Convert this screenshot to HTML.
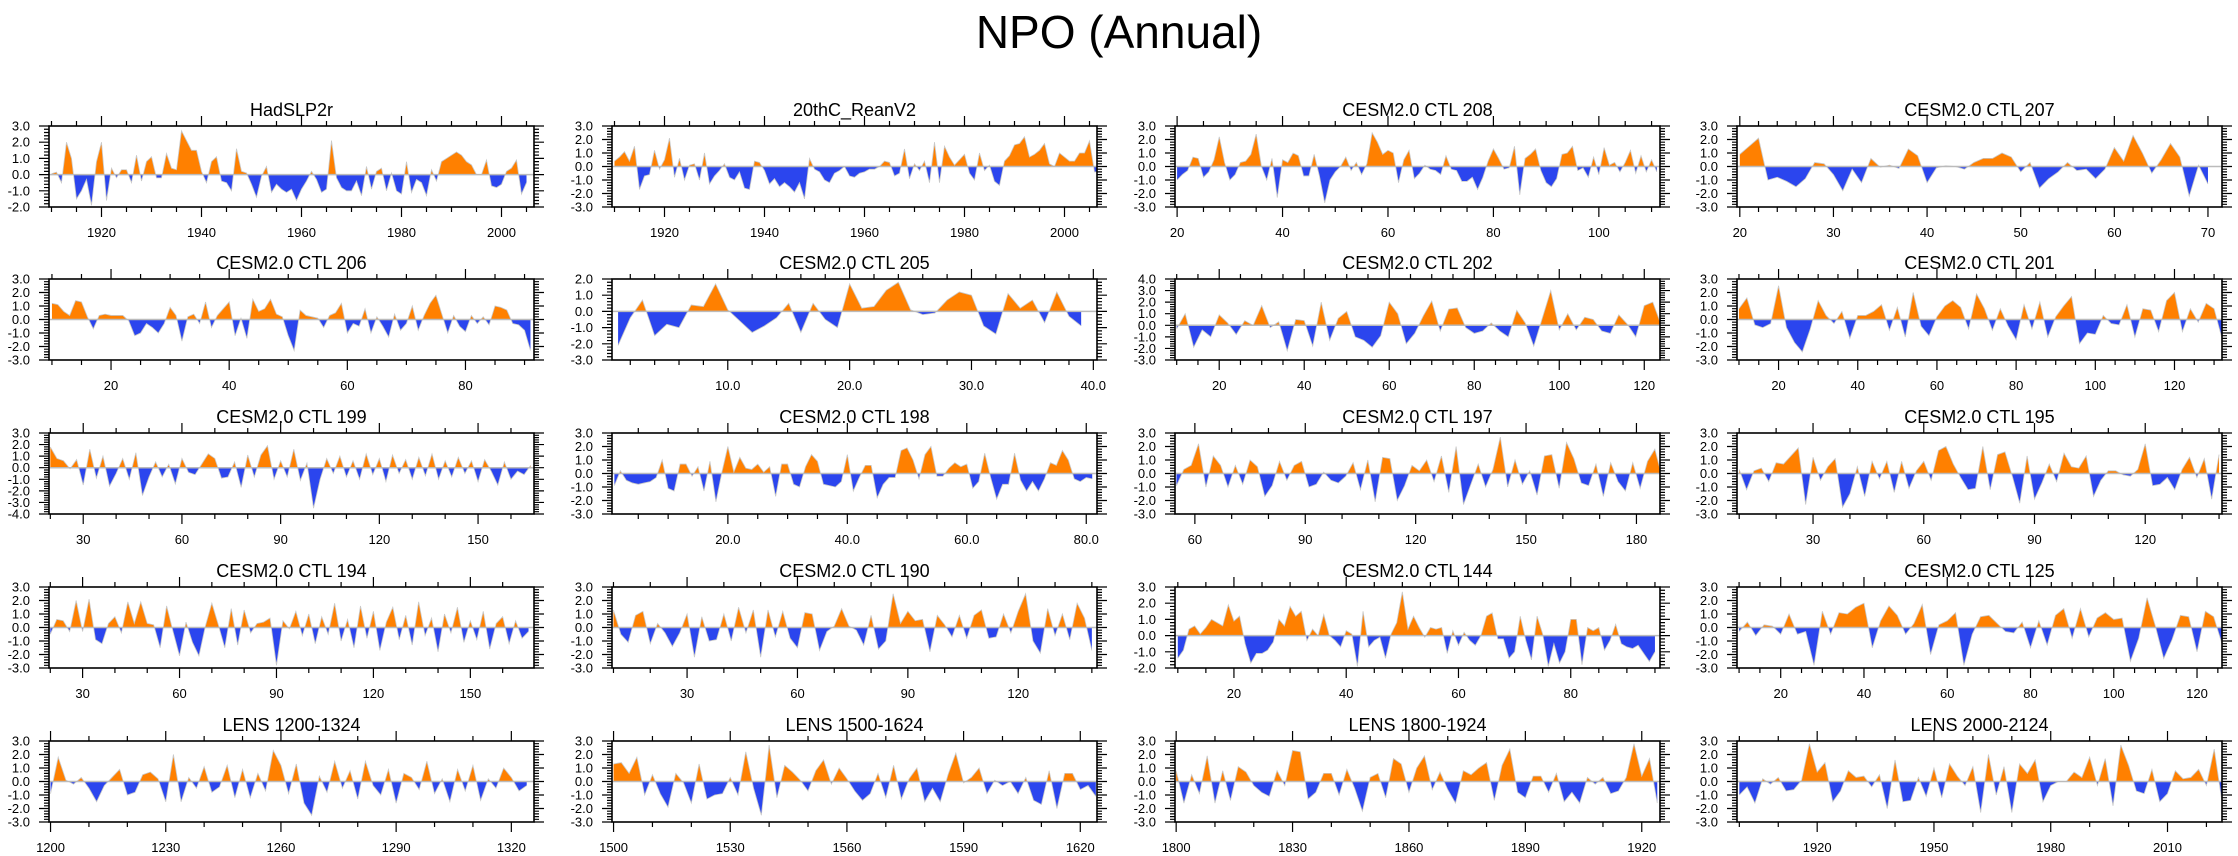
<!DOCTYPE html>
<html><head><meta charset="utf-8"><style>
html,body{margin:0;padding:0;background:#fff;}
svg{display:block;font-family:"Liberation Sans",Arial,sans-serif;}
</style></head><body>
<svg id="fig" width="2238" height="856" viewBox="0 0 2238 856" xmlns="http://www.w3.org/2000/svg">
<rect width="2238" height="856" fill="#fff"/>
<text x="1119" y="48" text-anchor="middle" font-size="46">NPO (Annual)</text>
</svg>
<script>
// ---- data (each series: value per time step) ----
const titles = ["HadSLP2r","20thC_ReanV2","CESM2.0 CTL 208","CESM2.0 CTL 207",
"CESM2.0 CTL 206","CESM2.0 CTL 205","CESM2.0 CTL 202","CESM2.0 CTL 201",
"CESM2.0 CTL 199","CESM2.0 CTL 198","CESM2.0 CTL 197","CESM2.0 CTL 195",
"CESM2.0 CTL 194","CESM2.0 CTL 190","CESM2.0 CTL 144","CESM2.0 CTL 125",
"LENS 1200-1324","LENS 1500-1624","LENS 1800-1924","LENS 2000-2124"];
const starts = [1910,1910,20,20, 10,1,10,10, 20,1,55,10, 20,10,10,10, 1200,1500,1800,1900];
const steps  = [1,1,1,1, 1,1,2,2, 2,1,2,2, 2,2,1,2, 2,2,2,2];
const xMins = [1909.5,1909.5,19.6,19.7, 9.5,0.5,9.6,9.5, 19.6,0.6,54.6,9.4, 19.6,9.6,9.5,9.5, 1199.6,1499.6,1799.7,1899.4];
const xMaxs = [2006.5,2006.5,111.6,71.5, 91.6,40.3,123.7,132, 167,81.8,186.4,140.8, 169.7,141.4,95.9,126, 1325.9,1624.3,1924.7,2024];
const yMins = [-2,-3,-3,-3, -3,-3,-3,-3, -4,-3,-3,-3, -3,-3,-2,-3, -3,-3,-3,-3];
const yMaxs = [3,3,3,3, 3,2,4,3, 3,3,3,3, 3,3,3,3, 3,3,3,3];
const majorSteps = [20,20,20,10, 20,10,20,20, 30,20,30,30, 30,30,20,20, 30,30,30,30];
const minorSteps = [5,5,5,2, 5,2,5,5, 10,5,10,10, 10,10,5,5, 10,10,10,10];
const tickDecimals = [0,0,0,0, 0,1,0,0, 0,1,0,0, 0,0,0,0, 0,0,0,0];

const v_had = [0.05,0.15,-0.5,2.0,1.0,-1.5,-1.0,-0.3,-1.9,0.8,2.0,-1.6,0.4,-0.2,0.3,0.3,-0.5,1.2,-0.4,0.8,1.1,-0.2,-0.2,1.3,0.4,0.3,2.7,2.1,1.5,1.5,0.2,-0.5,0.8,1.1,-0.4,-0.5,-1.0,1.6,0.2,0.1,-0.6,-1.4,-0.1,0.5,-1.1,-0.6,-0.9,-1.1,-0.9,-1.6,-0.9,-0.4,0.2,-0.3,-1.1,-0.9,2.1,-0.2,-0.8,-1.0,-1.0,-0.4,-1.3,0.5,-0.9,0.2,0.4,-1.0,0.1,-1.0,-1.2,0.8,-1.1,-0.3,-0.5,-1.3,0.3,-0.4,0.8,1.0,1.2,1.4,1.2,0.8,0.6,0.0,0.0,0.9,-0.7,-0.8,-0.6,0.2,0.4,0.9,-1.2,-0.5];
const v_20c = [0.4,0.7,1.1,0.4,1.5,-1.7,-0.7,-0.6,1.2,-0.2,0.5,2.1,-0.8,0.6,-1.0,0.1,0.2,-1.0,1.0,-1.3,-0.7,-0.3,0.2,-0.8,-1.0,-0.4,-1.6,-1.7,0.4,0.3,-0.3,-1.3,-0.9,-1.5,-1.2,-1.5,-1.9,-1.2,-2.4,0.6,-0.2,-0.4,-1.0,-1.2,-0.5,-0.3,0.0,-0.7,-0.8,-0.5,-0.4,-0.2,-0.2,0.0,0.4,0.3,-0.7,-0.5,1.3,-0.9,0.2,-0.3,0.4,-1.2,1.8,-1.2,1.5,0.7,0.1,0.5,0.9,-0.5,-1.0,1.0,-0.3,0.1,-1.1,-1.4,0.4,0.8,1.6,1.7,2.2,0.7,0.9,1.2,1.7,0.2,0.0,1.0,0.7,0.4,0.4,1.0,1.0,1.9,-0.4,-0.4];
const v_208 = [-1.0,-0.6,-0.3,0.7,0.6,-0.8,-0.4,0.5,2.2,0.3,-1.0,-0.6,0.3,0.4,0.9,2.4,0.0,-1.0,0.6,-2.3,0.5,0.3,1.0,0.8,-0.7,-0.7,0.9,-0.7,-2.7,-1.0,-0.4,0.0,0.7,-0.3,0.3,-0.6,0.2,2.5,1.8,0.9,1.2,1.0,-1.2,0.5,1.2,-0.9,-0.5,0.1,-0.2,-0.3,-0.6,0.8,-0.2,-0.3,-1.1,-1.1,-0.8,-1.7,-0.8,0.4,1.3,0.6,-0.2,-0.1,1.5,-2.1,0.6,0.9,1.3,-0.3,-1.2,-1.5,-0.9,0.9,1.0,1.5,-0.3,-0.1,-0.8,0.7,-0.6,1.4,0.1,0.3,-0.4,0.3,1.2,-0.5,0.8,-0.4,0.5,-0.4];
const v_207 = [0.9,1.5,2.1,-1.0,-0.8,-1.1,-1.5,-0.9,0.3,0.2,-0.6,-1.8,-0.2,-1.2,0.6,-0.05,0.1,-0.15,1.3,0.8,-1.2,-0.1,0.05,0.0,-0.2,0.3,0.6,0.6,1.0,0.7,-0.4,0.3,-1.6,-0.9,-0.4,0.3,-0.3,-0.2,-0.9,-0.2,1.4,0.4,2.3,1.0,-0.5,0.5,1.7,0.7,-2.2,0.1,-1.3];
const v_206 = [1.2,1.1,0.6,0.3,1.4,1.3,0.2,-0.7,0.3,0.4,0.3,0.3,0.3,-0.1,-1.2,-1.0,-0.3,-0.6,-1.0,-0.3,0.9,0.3,-1.6,0.2,0.4,-0.3,1.3,-0.6,0.3,0.8,1.3,-1.2,0.1,-1.4,1.5,0.6,0.8,1.5,0.4,0.2,-1.2,-2.3,0.7,0.3,0.2,0.1,-0.6,0.3,0.5,1.2,-1.0,-0.3,-0.5,0.8,-1.0,0.2,-0.5,-1.3,0.4,-0.8,-0.3,1.0,-0.8,0.3,1.2,1.8,0.4,-1.0,0.3,-0.5,-0.9,0.3,-0.3,0.2,-0.4,1.0,0.9,0.7,-0.3,-0.4,-0.8,-2.3];
const v_205 = [-2.1,-0.4,0.7,-1.5,-0.8,-1.0,0.4,0.3,1.7,0.1,-0.6,-1.3,-0.9,-0.4,0.5,-1.3,0.5,-0.5,-1.0,1.7,0.2,0.3,1.3,1.8,0.1,-0.2,-0.1,0.7,1.2,1.0,-0.9,-1.4,1.1,0.2,0.7,-0.7,1.2,-0.3,-0.9];
const v_202 = [-0.3,1.0,-1.9,-0.4,-1.0,0.9,0.2,-0.8,0.4,0.0,1.7,-0.2,0.3,-2.2,0.5,0.4,-1.8,2.0,-1.3,0.6,1.2,-1.0,-1.3,-1.9,-0.9,2.0,1.0,-1.6,-0.7,0.8,2.1,-0.5,1.4,1.5,-0.2,-0.7,-0.5,0.2,-0.5,-1.0,1.3,0.2,-1.8,0.6,3.0,-0.4,1.0,-0.4,0.7,0.5,-0.5,-0.7,0.9,0.1,-1.0,1.7,2.0,0.0];
const v_201 = [0.8,1.6,-0.4,-0.6,-0.3,2.5,-0.6,-1.7,-2.4,-0.7,1.4,0.3,-0.3,0.6,-1.4,0.3,0.3,0.6,1.1,-0.8,0.9,-1.3,2.0,-0.5,-1.2,0.2,1.0,1.4,0.9,-0.7,1.9,0.8,-0.8,0.8,-0.5,-1.5,1.1,-0.7,1.3,-1.3,0.2,1.0,1.7,-1.8,-1.0,-1.1,0.3,-0.3,-0.4,1.1,-1.3,0.8,0.7,-0.9,1.4,2.0,-0.9,0.8,-0.2,1.2,0.8,-1.4];
const v_199 = [1.8,0.8,0.6,-0.1,0.7,-1.5,1.6,-0.9,1.0,-1.6,-0.5,0.8,-1.0,1.3,-2.4,-0.8,0.5,-0.8,0.3,-1.4,0.8,-0.4,-0.6,0.3,1.2,0.8,-0.9,-0.8,0.5,-1.7,1.1,-0.8,1.1,1.9,-1.0,0.6,-0.8,1.6,-1.1,0.4,-3.5,-1.0,0.8,-0.5,1.0,-0.8,0.6,-1.0,1.2,-0.6,0.8,-1.2,1.1,-0.5,0.7,-1.0,0.9,-0.7,1.2,-1.0,0.6,-0.8,0.9,-0.5,0.6,-1.2,0.7,-0.3,-1.5,0.5,-1.0,-0.3,-0.6,0.2];
const v_198 = [-0.9,0.2,-0.5,-0.7,-0.8,-0.7,-0.6,-0.3,1.0,-1.1,-1.3,0.7,0.7,-0.2,0.5,-1.3,0.9,-2.1,0.1,2.0,0.1,1.2,0.4,0.3,0.7,0.1,0.5,-1.7,0.7,0.7,-0.8,-1.0,0.5,1.4,0.9,-0.8,-0.9,-1.0,-0.6,1.4,-1.3,-0.3,0.6,0.6,-1.8,-0.8,-0.3,-0.3,1.7,1.9,1.0,-0.4,1.4,2.0,-0.2,-0.2,0.4,0.8,0.5,0.7,-1.1,-0.6,1.5,-0.3,-1.9,-0.8,-0.8,1.5,-0.5,-1.3,-0.6,-1.3,-0.4,0.8,0.6,1.7,1.0,-0.4,-0.6,-0.3,-0.4];
const v_197 = [-0.9,0.3,0.6,2.2,-1.0,1.3,0.6,-1.0,0.6,-0.8,1.0,0.5,-1.7,-0.9,0.9,-0.5,0.6,0.9,-1.0,-0.8,0.1,-0.5,-0.7,-0.2,0.8,-1.2,1.0,-2.1,1.2,1.1,-2.0,-0.9,0.6,0.2,1.0,-0.6,1.3,-1.4,2.0,-2.3,-0.8,0.7,-1.0,0.3,2.7,-1.0,1.0,-0.8,0.2,-1.6,1.3,1.4,-1.1,2.3,1.1,-0.7,-0.9,0.7,-1.7,0.8,-0.6,-1.3,0.8,-1.1,0.9,1.8,-0.3];
const v_195 = [0.3,-1.2,0.2,0.4,-0.6,0.8,0.7,1.3,1.9,-2.3,1.2,-0.5,0.5,1.1,-2.5,-1.5,0.5,-1.7,0.9,-0.4,0.9,-1.4,0.9,-1.1,0.2,0.9,-0.5,1.7,2.0,0.7,-0.3,-1.2,-1.1,2.0,-1.2,1.4,1.6,-0.2,-2.2,1.3,-1.9,-0.7,0.7,-0.6,1.5,0.5,0.4,1.3,-1.7,-0.5,0.2,0.2,-0.1,-0.2,0.3,2.2,-0.9,-0.8,-0.3,-1.2,0.3,1.2,-0.3,1.1,-1.9,1.4];
const v_194 = [-0.5,0.6,0.5,-0.3,2.0,-0.3,2.1,-0.9,-1.2,0.3,0.8,-0.4,1.9,0.3,1.9,0.3,0.2,-1.5,1.6,-0.3,-2.1,0.4,-1.1,-2.1,0.1,1.8,0.2,-1.5,1.4,-1.3,1.3,-0.4,0.3,0.4,0.7,-2.8,0.5,-0.1,1.2,-0.6,1.0,-1.2,0.8,-0.5,1.8,-1.0,0.6,-1.5,1.6,-0.8,1.2,-1.7,0.4,1.5,-0.9,0.9,-1.3,1.9,-0.6,0.7,-1.8,1.0,-0.4,1.5,-1.1,0.5,-0.9,1.2,-1.6,0.3,0.8,-1.2,0.5,-0.8,-0.3];
const v_190 = [1.3,-0.5,-1.1,0.9,1.2,-1.2,0.3,-0.4,-1.4,-0.4,1.0,-2.2,0.8,-1.0,-0.9,1.0,-1.0,1.5,-0.4,1.3,-2.2,1.3,-0.7,1.2,-0.8,-1.5,1.1,1.0,-1.7,-0.3,0.1,1.4,0.1,-0.2,-1.3,0.9,-1.6,-1.0,2.5,0.3,1.2,0.5,0.6,-1.8,0.9,0.2,-0.7,0.9,-0.8,0.9,1.3,-0.8,-0.7,1.0,-0.4,1.2,2.5,-1.0,-1.9,1.4,-0.6,1.0,-0.9,1.8,0.7,-1.7];
const v_144 = [-1.4,-0.9,0.4,0.6,0.1,0.5,1.0,0.8,0.6,1.9,0.9,1.2,-0.5,-1.7,-1.1,-1.1,-0.9,-0.4,1.0,0.6,1.8,1.2,1.5,-0.3,0.4,0.0,1.3,0.0,-0.3,-0.7,0.3,0.1,-1.9,1.5,-0.7,-0.3,-0.1,-1.4,0.1,0.8,2.7,0.4,1.2,0.5,-0.1,0.5,0.4,0.5,-1.1,0.3,-0.6,0.2,-0.3,-0.6,0.0,1.2,1.4,-0.2,-0.2,-1.4,-1.0,1.2,-0.3,-1.5,1.2,0.1,-1.9,-0.5,-1.7,-1.0,1.0,1.0,-1.8,0.5,0.3,0.5,-0.9,-0.3,0.7,-0.5,-0.7,-0.8,-0.6,-1.1,-1.6,-1.0];
const v_125 = [-0.3,0.4,-0.6,0.2,0.1,-0.5,1.0,-0.5,-0.3,-2.8,1.2,-0.5,1.1,1.0,1.5,1.8,-1.5,0.5,1.6,0.9,-0.5,0.3,1.7,-2.0,0.2,0.5,1.1,-2.8,-0.5,0.8,0.9,0.3,-0.3,-0.4,0.4,-1.5,0.5,-1.3,0.9,1.4,-0.8,1.4,-0.7,0.7,1.1,0.6,0.7,-2.5,-0.8,2.2,0.1,-2.3,-0.9,0.9,0.8,-1.8,1.2,0.8,-1.2];
const v_l1200 = [-0.9,1.8,0.1,-0.2,0.3,-0.5,-1.5,-0.3,0.3,0.9,-1.0,-0.8,0.5,0.7,0.2,-1.5,2.0,-1.5,0.3,-0.5,1.1,-0.8,-0.4,1.2,-1.2,0.9,-1.2,0.6,-0.7,2.3,1.2,-0.9,1.3,-1.6,-2.5,0.4,-0.8,1.5,-0.5,0.8,-1.3,1.5,-0.3,-1.0,0.9,-1.6,0.6,0.3,-0.6,1.5,-0.9,0.2,-1.5,0.9,-0.7,1.2,-1.4,0.2,-0.5,1.0,0.3,-0.7,-0.3];
const v_l1500 = [1.3,1.4,0.6,1.8,-1.0,0.5,-0.9,-1.9,0.6,-0.1,-1.6,1.3,-1.3,-1.0,-0.9,0.3,-1.0,2.2,-0.5,-2.5,2.7,-1.2,1.2,0.7,0.1,-0.7,0.8,1.6,-0.2,1.0,0.2,-0.7,-1.4,-0.9,0.6,-1.2,1.2,-1.3,0.2,1.0,-1.5,-0.5,-1.5,0.5,2.1,-0.1,0.3,1.0,-0.9,0.1,-0.3,0.0,-0.9,0.3,-1.4,-1.7,0.8,-2.0,0.6,0.6,-0.6,-0.3,-1.1];
const v_l1800 = [0.8,-1.6,0.5,-0.9,1.9,-1.6,0.8,-1.4,1.1,0.7,-0.3,-0.8,-1.1,0.8,-0.3,2.3,2.2,-1.3,-0.8,0.6,0.6,-1.0,0.9,-0.5,-2.2,0.3,0.6,-1.2,1.7,1.3,-0.8,1.0,1.9,-0.6,0.7,-0.6,-1.6,0.8,0.5,1.0,1.4,-1.4,1.2,2.4,-0.8,-1.2,0.4,0.4,-0.8,0.6,-1.5,-0.8,-1.6,0.3,-0.2,0.3,-0.9,-0.7,0.3,2.8,0.4,1.7,-1.6];
const v_l2000 = [-1.0,-0.4,-1.6,0.2,-0.2,0.3,-0.7,-0.6,0.1,2.8,0.7,1.4,-1.5,-0.7,0.8,0.3,0.4,-0.4,0.5,-2.0,1.6,-1.5,-1.4,0.3,-1.1,1.0,-1.2,1.3,0.4,-0.3,1.1,-2.3,2.0,-1.0,1.1,-2.3,1.3,0.6,1.6,-1.5,-0.3,0.0,0.0,0.7,0.3,1.8,-0.3,1.7,-1.8,2.7,1.2,-0.7,-0.9,0.9,-1.5,-0.9,0.8,0.2,0.3,0.9,-0.3,2.4,-1.5];
const seriesValues = [v_had,v_20c,v_208,v_207,v_206,v_205,v_202,v_201,v_199,v_198,v_197,v_195,v_194,v_190,v_144,v_125,v_l1200,v_l1500,v_l1800,v_l2000];

// ---- layout ----
const colLeft = [49,612,1175,1737];
const rowTop = [126,279,433,587,741];
const PW = 485, PH = 81;
const NS = "http://www.w3.org/2000/svg";
const svg = document.getElementById('fig');
function mk(tag, attrs, parent){ const e=document.createElementNS(NS,tag); for(const k in attrs) e.setAttribute(k,attrs[k]); (parent||svg).appendChild(e); return e; }

for (let p=0;p<20;p++){
  const L = colLeft[p%4], T = rowTop[Math.floor(p/4)], R=L+PW, B=T+PH;
  const xmin=xMins[p], xmax=xMaxs[p], ymin=yMins[p], ymax=yMaxs[p];
  const sx = v => L + (v-xmin)/(xmax-xmin)*PW;
  const sy = v => B - (v-ymin)/(ymax-ymin)*PH;
  const g = mk('g',{});
  
  
  const cid='clip'+p;
  const defs=mk('defs',{},g);
  const cp=mk('clipPath',{id:cid},defs); mk('rect',{x:L,y:T,width:PW,height:PH},cp);
  const cpos=mk('clipPath',{id:cid+'p'},defs); mk('rect',{x:L,y:T,width:PW,height:sy(0)-T},cpos);
  const cneg=mk('clipPath',{id:cid+'n'},defs); mk('rect',{x:L,y:sy(0),width:PW,height:B-sy(0)},cneg);
  const vals = seriesValues[p];
  let line='', area='';
  vals.forEach((v,i)=>{ const x=sx(starts[p]+i*steps[p]), y=sy(v); line += (i?'L':'M')+x.toFixed(2)+','+y.toFixed(2); });
  const x0=sx(starts[p]), x1=sx(starts[p]+(vals.length-1)*steps[p]);
  area = line + 'L'+x1.toFixed(2)+','+sy(0).toFixed(2)+'L'+x0.toFixed(2)+','+sy(0).toFixed(2)+'Z';
  const gc=mk('g',{'clip-path':'url(#'+cid+')'},g);
  const pos=mk('path',{d:area,fill:'#ff8000','clip-path':'url(#'+cid+'p)'},gc);
  
  
  const neg=mk('path',{d:area,fill:'#2b45ee','clip-path':'url(#'+cid+'n)'},gc);
  
  
  const ln=mk('path',{d:line,fill:'none',stroke:'#c8c8c8','stroke-width':0.8},gc);
  
  
  const zl=mk('line',{x1:L,x2:R,y1:sy(0),y2:sy(0),stroke:'#bbbbbb','stroke-width':1.5},g);
  
  
  // box
  const box=mk('rect',{x:L,y:T,width:PW,height:PH,fill:'none',stroke:'#000','stroke-width':1.6},g);
  
  
  // ticks
  let tk='';
  const mn=minorSteps[p], mj=majorSteps[p];
  for(let t=Math.ceil(xmin/mn)*mn; t<=xmax+1e-9; t+=mn){
    const x=sx(t).toFixed(2); const isMaj=Math.abs(t/mj-Math.round(t/mj))<1e-6; const len=isMaj?10:5;
    tk+='M'+x+','+B+'v'+len+'M'+x+','+T+'v-'+len;
    if(isMaj){
      const lab=mk('text',{x:x,y:B+30,'text-anchor':'middle','font-size':13},g);
      lab.textContent=t.toFixed(tickDecimals[p]);
      
      
    }
  }
  for(let k=Math.round(ymin*5); k<=Math.round(ymax*5); k++){
    const y=sy(k/5).toFixed(2); const isMaj=k%5===0; const len=isMaj?10:5;
    tk+='M'+L+','+y+'h-'+len+'M'+R+','+y+'h'+len;
    if(isMaj){
      const lab=mk('text',{x:L-19,y:(+y+4.5).toFixed(2),'text-anchor':'end','font-size':13},g);
      lab.textContent=(k/5).toFixed(1);
      
      
    }
  }
  const ticks=mk('path',{d:tk,stroke:'#000','stroke-width':1.2,fill:'none'},g);
  
  
  const tt=mk('text',{x:L+PW/2,y:T-10,'text-anchor':'middle','font-size':18},g);
  tt.textContent=titles[p];
  
  
}
</script>
</body></html>
